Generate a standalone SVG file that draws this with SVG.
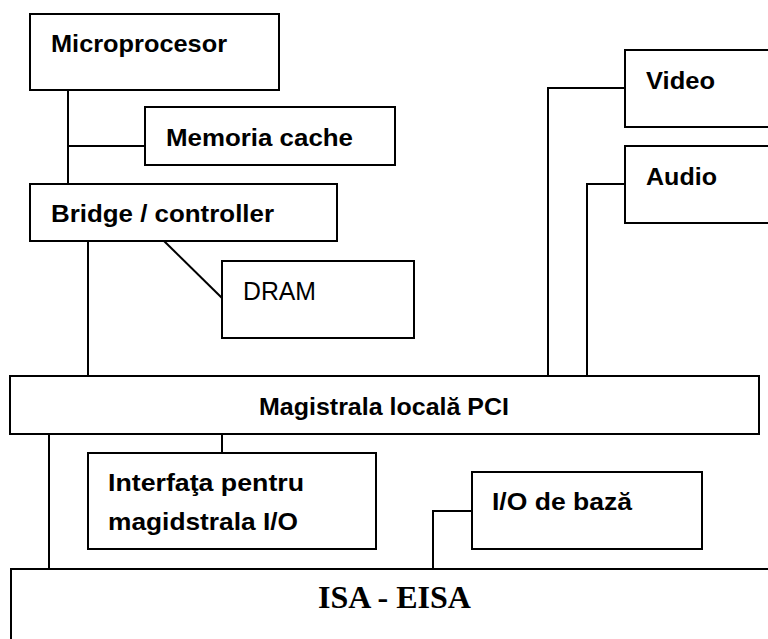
<svg xmlns="http://www.w3.org/2000/svg" width="768" height="639" viewBox="0 0 768 639">
<style>
.box{fill:#fff;stroke:#000;stroke-width:2}
.ln{fill:none;stroke:#000;stroke-width:2}
.b{font-family:"Liberation Sans",Arial,sans-serif;font-weight:bold;font-size:24px;fill:#000}
.r{font-family:"Liberation Sans",Arial,sans-serif;font-size:25px;fill:#000}
.s{font-family:"Liberation Serif","Times New Roman",serif;font-weight:bold;font-size:31px;fill:#000}
</style>
<rect width="768" height="639" fill="#fff"/>
<g id="connectors">
<polyline class="ln" points="68,90 68,184"/>
<polyline class="ln" points="68,146 145,146"/>
<polyline class="ln" points="164,241 222,298"/>
<polyline class="ln" points="88,241 88,376"/>
<polyline class="ln" points="625,88 548,88 548,376"/>
<polyline class="ln" points="625,184 587,184 587,376"/>
<polyline class="ln" points="49,434 49,569"/>
<polyline class="ln" points="222,434 222,453"/>
<polyline class="ln" points="472,511 433,511 433,569"/>
</g>
<g id="microprocesor"><rect class="box" x="30" y="14" width="249" height="76"/><text class="b" x="51" y="52" textLength="176" lengthAdjust="spacingAndGlyphs">Microprocesor</text></g>
<g id="memoria-cache"><rect class="box" x="145" y="107" width="250" height="58"/><text class="b" x="166" y="146" textLength="187" lengthAdjust="spacingAndGlyphs">Memoria cache</text></g>
<g id="bridge"><rect class="box" x="30" y="184" width="307" height="57"/><text class="b" x="51" y="222" textLength="223" lengthAdjust="spacingAndGlyphs">Bridge / controller</text></g>
<g id="dram"><rect class="box" x="222" y="261" width="192" height="77"/><text class="r" x="243" y="300" textLength="73" lengthAdjust="spacingAndGlyphs">DRAM</text></g>
<g id="video"><rect class="box" x="625" y="50" width="150" height="77"/><text class="b" x="646" y="89" textLength="69" lengthAdjust="spacingAndGlyphs">Video</text></g>
<g id="audio"><rect class="box" x="625" y="146" width="150" height="77"/><text class="b" x="646" y="185" textLength="71" lengthAdjust="spacingAndGlyphs">Audio</text></g>
<g id="pci"><rect class="box" x="10" y="376" width="749" height="58"/><text class="b" x="259" y="415" font-size="25" textLength="250" lengthAdjust="spacingAndGlyphs">Magistrala locală PCI</text></g>
<g id="interfata"><rect class="box" x="88" y="453" width="288" height="96"/><text class="b" x="108" y="491" font-size="25" textLength="196" lengthAdjust="spacingAndGlyphs">Interfaţa pentru</text><text class="b" x="108" y="530" font-size="25" textLength="190" lengthAdjust="spacingAndGlyphs">magidstrala I/O</text></g>
<g id="io-baza"><rect class="box" x="472" y="472" width="230" height="77"/><text class="b" x="492" y="510" font-size="25" textLength="140" lengthAdjust="spacingAndGlyphs">I/O de bază</text></g>
<g id="isa-eisa"><rect class="box" x="11" y="569" width="770" height="80"/><text class="s" x="318" y="608" textLength="153" lengthAdjust="spacingAndGlyphs">ISA - EISA</text></g>
</svg>
